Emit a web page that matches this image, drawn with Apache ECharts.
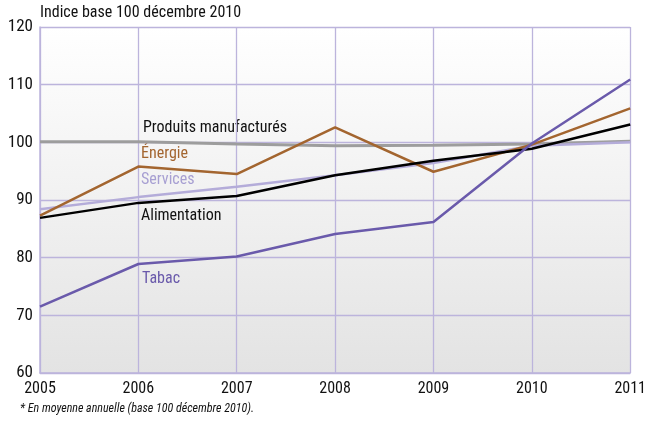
<!DOCTYPE html>
<html><head><meta charset="utf-8">
<script src="https://cdn.jsdelivr.net/npm/echarts@6/dist/echarts.min.js"></script>
<style>html,body{margin:0;padding:0;background:#fff}#c{width:649px;height:422px}</style>
</head><body><div id="c"></div>
<script>
const years = ['2005','2006','2007','2008','2009','2010','2011'];
const produitsManufactures = [100.1, 100.1, 99.7, 99.4, 99.5, 99.7, 100.2];
const energie = [87.3, 95.8, 94.5, 102.6, 94.9, 99.6, 105.9];
const services = [88.4, 90.5, 92.3, 94.3, 96.4, 99.4, 100.0];
const alimentation = [86.9, 89.5, 90.7, 94.3, 96.8, 98.9, 103.1];
const tabac = [71.5, 78.9, 80.2, 84.1, 86.2, 99.8, 110.9];
const yTicks = [60, 70, 80, 90, 100, 110, 120];

const font = '"Liberation Sans Narrow", "Roboto Condensed", "Liberation Sans", sans-serif';
const gridColor = '#bcb4dc';

const chart = echarts.init(document.getElementById('c'), null, {renderer:'canvas'});
function line(name, data, color, width, z) {
  return {name, type:'line', data, symbol:'none', z: z||2,
    lineStyle:{color, width}, itemStyle:{color}};
}
chart.setOption({
  animation:false,
  grid:{left:40, right:15, top:27, bottom:49, show:true, borderWidth:0,
    backgroundColor:{type:'linear', x:0, y:0, x2:0, y2:1,
      colorStops:[{offset:0,color:'#ffffff'},{offset:1,color:'#e3e3e3'}]}},
  xAxis:{type:'category', data:years, boundaryGap:false,
    axisLine:{lineStyle:{color:gridColor, width:1.5}}, axisTick:{show:false},
    splitLine:{show:true, lineStyle:{color:gridColor, width:1.3}},
    axisLabel:{color:'#111', fontFamily:font, fontSize:16, margin:8,
      formatter:v=>v}},
  yAxis:{type:'value', min:60, max:120, interval:10,
    axisLine:{show:true, lineStyle:{color:gridColor, width:1.5}}, axisTick:{show:false},
    splitLine:{lineStyle:{color:gridColor, width:1.3}},
    axisLabel:{color:'#111', fontFamily:font, fontSize:17, margin:7,
      formatter:v=>yTicks.includes(v)?String(v):''}},
  series:[
    line('Produits manufacturés', produitsManufactures, '#9d9d9d', 3, 2),
    line('Services', services, '#b4acd9', 2.5, 3),
    line('Énergie', energie, '#a3652f', 2.5, 4),
    line('Alimentation', alimentation, '#000000', 2.5, 5),
    line('Tabac', tabac, '#6a5aab', 2.5, 6)
  ],
  graphic:[
    {type:'text', left:40, top:5, style:{text:'Indice base 100 décembre 2010', fill:'#111', font:'16px '+font}},
    {type:'text', left:20, top:403, style:{text:'* En moyenne annuelle (base 100 décembre 2010).', fill:'#111', font:'italic 12px '+font}},
    {type:'text', left:143, top:120, style:{text:'Produits manufacturés', fill:'#111', font:'16px '+font}},
    {type:'text', left:141, top:146, style:{text:'Énergie', fill:'#a3652f', font:'16px '+font}},
    {type:'text', left:141, top:172, style:{text:'Services', fill:'#a79fd2', font:'16px '+font}},
    {type:'text', left:141, top:208, style:{text:'Alimentation', fill:'#111', font:'16px '+font}},
    {type:'text', left:142, top:271, style:{text:'Tabac', fill:'#6a5aab', font:'16px '+font}}
  ]
});
</script></body></html>
